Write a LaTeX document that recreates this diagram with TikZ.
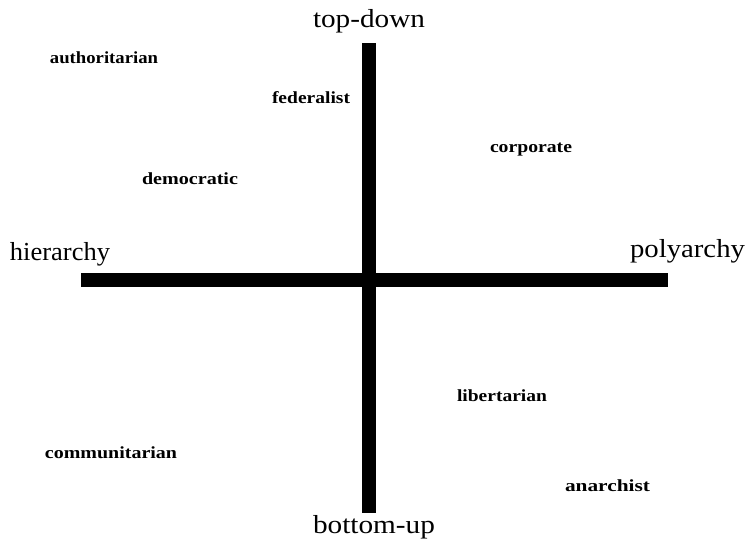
\documentclass[tikz,border=0pt]{standalone}
\usepackage{fontspec}
\setmainfont{Liberation Serif}
\usepackage{graphicx}
\newcommand\fitw[2]{\resizebox{#1}{\height}{#2}}
\tikzset{
  axis/.style={line width=14pt, black, line cap=butt},
  big/.style={anchor=base, inner sep=0pt, font=\fontsize{26}{30}\selectfont},
  small/.style={anchor=base, inner sep=0pt, font=\fontsize{17}{20}\selectfont\bfseries},
}
\begin{document}
\begin{tikzpicture}[x=1pt,y=-1pt]
\useasboundingbox (0,0) rectangle (747,541);
\coordinate (vt) at (368.5,43);
\coordinate (vb) at (368.5,513);
\coordinate (hl) at (81,280);
\coordinate (hr) at (668,280);
\draw[axis] (hl) -- (hr);
\draw[axis] (vt) -- (vb);
\node[big] (td) at (369,27) {\fitw{112pt}{top-down}};
\node[big] (bu) at (374,533) {\fitw{122pt}{bottom-up}};
\node[big] (hi) at (60,260) {\fitw{100pt}{hierarchy}};
\node[big] (po) at (687.5,257) {\fitw{115pt}{polyarchy}};
\node[small] (au) at (104,63) {\fitw{108pt}{authoritarian}};
\node[small] (fe) at (311,103) {\fitw{78pt}{federalist}};
\node[small] (co) at (531,152) {\fitw{82pt}{corporate}};
\node[small] (de) at (190,184) {\fitw{96pt}{democratic}};
\node[small] (li) at (502,401) {\fitw{90pt}{libertarian}};
\node[small] (cm) at (111,458) {\fitw{132pt}{communitarian}};
\node[small] (an) at (607.5,491) {\fitw{85pt}{anarchist}};
\end{tikzpicture}
\end{document}
